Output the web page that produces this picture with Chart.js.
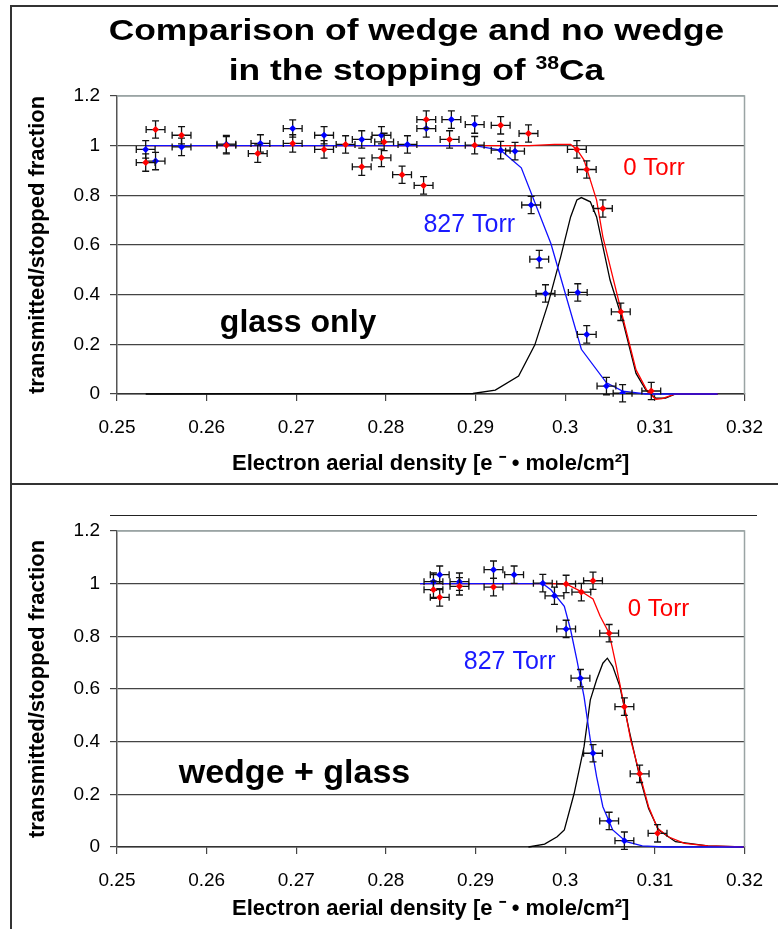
<!DOCTYPE html>
<html>
<head>
<meta charset="utf-8">
<script src="https://cdn.jsdelivr.net/npm/chart.js@4.4.1/dist/chart.umd.min.js"></script>
<style>
  html, body { margin: 0; padding: 0; background: #fff; }
  body { width: 778px; height: 929px; position: relative; overflow: hidden;
         font-family: "Liberation Sans", Arial, sans-serif; }
  canvas { position: absolute; left: 0; }
  #topChart { top: 0; }
  #bottomChart { top: 484px; }
  .rule { position: absolute; background: #333; }
  #title { position: absolute; left: 0; top: 10px; width: 833px; text-align: center;
           font-weight: bold; font-size: 30px; line-height: 40px; color: #000;
           transform: scaleX(1.18); transform-origin: 416.5px 0; }
  #title sup { font-size: 60%; line-height: 0; }
</style>
</head>
<body>
<canvas id="topChart" width="778" height="484"></canvas>
<canvas id="bottomChart" width="778" height="445"></canvas>
<div id="title">Comparison of wedge and no wedge<br>in the stopping of <sup>38</sup>Ca</div>
<div class="rule" style="left:10px;top:5px;width:2px;height:924px"></div>
<div class="rule" style="left:10px;top:5px;width:768px;height:2px"></div>
<div class="rule" style="left:10px;top:483px;width:768px;height:2px"></div>
<div class="rule" style="left:110px;top:515px;width:647px;height:1px;background:#222"></div>
<script>
// axis ticks
const xTickValues = [0.25, 0.26, 0.27, 0.28, 0.29, 0.30, 0.31, 0.32];
const xTickLabels = ['0.25', '0.26', '0.27', '0.28', '0.29', '0.3', '0.31', '0.32'];
const yTickValues = [0, 0.2, 0.4, 0.6, 0.8, 1.0, 1.2];
const yTickLabels = ['0', '0.2', '0.4', '0.6', '0.8', '1', '1.2'];

// glass only: measured points (0 Torr = red, 827 Torr = blue)
const glassRedX = [0.2532, 0.2543, 0.2572, 0.2622, 0.2657, 0.2696, 0.2731, 0.2755, 0.2773, 0.2795, 0.2798, 0.2818,
  0.2842, 0.2845, 0.2871, 0.2899, 0.2928, 0.2959, 0.3013, 0.3024, 0.3042, 0.3062, 0.3096];
const glassRedY = [0.932, 1.065, 1.042, 1.002, 0.968, 1.009, 0.985, 1.005, 0.915, 0.951, 1.015, 0.883,
  0.840, 1.105, 1.025, 1.002, 1.082, 1.049, 0.985, 0.904, 0.747, 0.331, 0.012];
const glassBlueX = [0.2532, 0.2543, 0.2572, 0.2622, 0.2660, 0.2696, 0.2731, 0.2773, 0.2795, 0.2824, 0.2845, 0.2873,
  0.2899, 0.2928, 0.2944, 0.2962, 0.2971, 0.2978, 0.3014, 0.3024, 0.3046, 0.3064];
const glassBlueY = [0.985, 0.938, 0.995, 1.006, 1.009, 1.069, 1.042, 1.025, 1.042, 1.005, 1.069, 1.105,
  1.085, 0.982, 0.978, 0.761, 0.543, 0.405, 0.409, 0.240, 0.032, 0.003];
const glassErrX = 0.00105;
const glassErrY = 0.035;

// glass only: model curves
const glassBlueFitX = [0.2532, 0.2899, 0.2928, 0.2951, 0.2984, 0.3018, 0.3046, 0.3064, 0.3090, 0.3170];
const glassBlueFitY = [1, 1, 0.982, 0.911, 0.606, 0.180, 0.045, 0.012, 0, 0];
const glassRedFitX = [0.2532, 0.2960, 0.2988, 0.3006, 0.3013, 0.3021, 0.3035, 0.3042, 0.3053, 0.3064, 0.3079,
  0.3092, 0.3101, 0.3108, 0.3123, 0.3170];
const glassRedFitY = [1, 1, 1.005, 1.005, 0.985, 0.942, 0.781, 0.633, 0.472, 0.311, 0.097,
  0.009, -0.021, -0.019, 0, 0];
const glassPeakX = [0.2532, 0.2897, 0.2922, 0.2948, 0.2966, 0.2981, 0.2995, 0.3006, 0.3013, 0.3018, 0.3028, 0.3035,
  0.3050, 0.3064, 0.3079, 0.3090, 0.3101, 0.3112, 0.3123, 0.3170];
const glassPeakY = [0, 0.002, 0.016, 0.072, 0.197, 0.365, 0.553, 0.713, 0.781, 0.791, 0.774, 0.713,
  0.459, 0.298, 0.083, 0.016, -0.017, -0.017, 0, 0];

// wedge + glass: measured points
const wedgeRedX = [0.2853, 0.2860, 0.2882, 0.2920, 0.3001, 0.3018, 0.3031, 0.3049, 0.3066, 0.3083, 0.3103];
const wedgeRedY = [0.977, 0.948, 0.990, 0.987, 0.999, 0.968, 1.011, 0.812, 0.533, 0.278, 0.052];
const wedgeBlueX = [0.2853, 0.2860, 0.2882, 0.2920, 0.2943, 0.2975, 0.2988, 0.3001, 0.3017, 0.3031, 0.3049, 0.3066];
const wedgeBlueY = [1.0075, 1.034, 1.0075, 1.053, 1.034, 1.002, 0.954, 0.828, 0.641, 0.356, 0.099, 0.024];
const wedgeErrX = 0.00105;
const wedgeErrY = 0.033;

// wedge + glass: model curves
const wedgeBlueFitX = [0.2838, 0.2975, 0.2984, 0.2999, 0.3006, 0.3013, 0.3021, 0.3028, 0.3035, 0.3042, 0.3053,
  0.3068, 0.3086, 0.3110, 0.3199];
const wedgeBlueFitY = [1, 1, 0.977, 0.914, 0.825, 0.711, 0.571, 0.407, 0.267, 0.153, 0.065,
  0.020, 0.004, 0, 0];
const wedgeRedFitX = [0.2838, 0.2975, 0.3001, 0.3018, 0.3031, 0.3039, 0.3049, 0.3057, 0.3066, 0.3073, 0.3083,
  0.3093, 0.3103, 0.3115, 0.3133, 0.3159, 0.3199];
const wedgeRedFitY = [1, 1, 0.999, 0.970, 0.942, 0.876, 0.812, 0.686, 0.533, 0.407, 0.278,
  0.153, 0.071, 0.039, 0.014, 0.004, 0];
const wedgePeakX = [0.2959, 0.2977, 0.2991, 0.2999, 0.3010, 0.3021, 0.3028, 0.3035, 0.3042, 0.3047, 0.3053, 0.3061,
  0.3072, 0.3083, 0.3093, 0.3104, 0.3123, 0.3159, 0.3199];
const wedgePeakY = [0, 0.011, 0.039, 0.065, 0.204, 0.381, 0.559, 0.635, 0.698, 0.717, 0.686, 0.609,
  0.432, 0.267, 0.146, 0.065, 0.020, 0.004, 0];

const FONT = '"Liberation Sans", Arial, sans-serif';
Chart.defaults.font.family = FONT;
Chart.defaults.color = '#000';

const zip = (xs, ys) => xs.map((x, i) => ({ x, y: ys[i] }));

// error bars drawn just before each measured dataset's markers
const errorBars = {
  id: 'errorBars',
  beforeDatasetDraw(chart, args) {
    const ds = chart.data.datasets[args.index];
    if (!ds.errX) return;
    const { ctx } = chart;
    const xs = chart.scales.x;
    const ys = chart.scales.y;
    const cap = 3.5;
    ctx.save();
    ctx.strokeStyle = '#111';
    ctx.lineWidth = 1.3;
    ctx.beginPath();
    ds.data.forEach((p) => {
      const px = xs.getPixelForValue(p.x);
      const py = ys.getPixelForValue(p.y);
      const x0 = xs.getPixelForValue(p.x - ds.errX);
      const x1 = xs.getPixelForValue(p.x + ds.errX);
      const y0 = ys.getPixelForValue(p.y - ds.errY);
      const y1 = ys.getPixelForValue(p.y + ds.errY);
      ctx.moveTo(x0, py); ctx.lineTo(x1, py);
      ctx.moveTo(x0, py - cap); ctx.lineTo(x0, py + cap);
      ctx.moveTo(x1, py - cap); ctx.lineTo(x1, py + cap);
      ctx.moveTo(px, y0); ctx.lineTo(px, y1);
      ctx.moveTo(px - cap, y0); ctx.lineTo(px + cap, y0);
      ctx.moveTo(px - cap, y1); ctx.lineTo(px + cap, y1);
    });
    ctx.stroke();
    ctx.restore();
  },
};

// grey top/right edge of the plot area
const plotFrame = {
  id: 'plotFrame',
  beforeDatasetsDraw(chart) {
    const { ctx, chartArea: a } = chart;
    ctx.save();
    ctx.strokeStyle = '#9aa4a4';
    ctx.lineWidth = 1.5;
    ctx.beginPath();
    ctx.moveTo(a.left, a.top);
    ctx.lineTo(a.right, a.top);
    ctx.lineTo(a.right, a.bottom);
    ctx.stroke();
    ctx.restore();
  },
};

// in-plot text placed in data units
const plotLabels = {
  id: 'plotLabels',
  afterDatasetsDraw(chart, args, opts) {
    const { ctx } = chart;
    ctx.save();
    ctx.textAlign = 'center';
    ctx.textBaseline = 'middle';
    (opts.items || []).forEach((it) => {
      ctx.fillStyle = it.color;
      ctx.font = `${it.bold ? 'bold ' : ''}${it.size}px ${FONT}`;
      ctx.fillText(it.text, chart.scales.x.getPixelForValue(it.x), chart.scales.y.getPixelForValue(it.y));
    });
    ctx.restore();
  },
};

function makeChart(canvas, cfg) {
  const curve = (data, color, order) => ({
    data, showLine: true, borderColor: color, borderWidth: 1.3, pointRadius: 0,
    tension: 0, clip: 8, order,
  });
  const points = (data, color, errX, errY) => ({
    data, showLine: false, pointStyle: 'rectRot', pointRadius: 3.5,
    backgroundColor: color, borderColor: color, borderWidth: 0, errX, errY, order: 0,
  });
  return new Chart(canvas, {
    type: 'scatter',
    data: {
      datasets: [
        points(cfg.redPts, '#ff0000', cfg.errX, cfg.errY),
        points(cfg.bluePts, '#0000ff', cfg.errX, cfg.errY),
        curve(cfg.blueFit, '#1010ff', 1),
        curve(cfg.redFit, '#ff0000', 2),
        curve(cfg.peak, '#000000', 3),
      ],
    },
    options: {
      responsive: false,
      animation: false,
      events: [],
      layout: { padding: { top: cfg.padTop, right: 21, left: 0, bottom: 0 } },
      plugins: {
        legend: { display: false },
        tooltip: { enabled: false },
        plotLabels: { items: cfg.labels },
      },
      scales: {
        x: {
          type: 'linear',
          min: 0.25,
          max: 0.32,
          afterBuildTicks: (axis) => { axis.ticks = xTickValues.map((value) => ({ value })); },
          afterFit: (s) => { s.height = cfg.xHeight; },
          ticks: { callback: (v, i) => xTickLabels[i], padding: 15, maxRotation: 0, autoSkip: false,
                   font: { size: 19 }, color: '#000' },
          grid: { drawOnChartArea: false, tickLength: 7, color: '#444', lineWidth: 1.2 },
          border: { color: '#333', width: 1.5 },
          title: { display: true, text: 'Electron aerial density [e ⁻ • mole/cm²]',
                   font: { size: 22, weight: 'bold' }, color: '#000', padding: { top: 0, bottom: 7 } },
        },
        y: {
          min: 0,
          max: 1.2,
          afterBuildTicks: (axis) => { axis.ticks = yTickValues.map((value) => ({ value })); },
          afterFit: (s) => { s.width = 117; },
          ticks: { callback: (v, i) => yTickLabels[i], padding: 10, font: { size: 19 }, color: '#000' },
          grid: {
            color: (c) => (c.tick && c.tick.value > 1.1 ? '#9aa4a4' : '#444'),
            tickColor: '#444',
            tickLength: 7,
            lineWidth: 1.2,
          },
          border: { color: '#555', width: 1.5 },
          title: { display: true, text: 'transmitted/stopped fraction',
                   font: { size: 22, weight: 'bold' }, color: '#000', padding: { top: 25, bottom: 0 } },
        },
      },
    },
    plugins: [plotFrame, errorBars, plotLabels],
  });
}

makeChart(document.getElementById('topChart'), {
  padTop: 96,
  xHeight: 90,
  redPts: zip(glassRedX, glassRedY),
  bluePts: zip(glassBlueX, glassBlueY),
  errX: glassErrX,
  errY: glassErrY,
  blueFit: zip(glassBlueFitX, glassBlueFitY),
  redFit: zip(glassRedFitX, glassRedFitY),
  peak: zip(glassPeakX, glassPeakY),
  labels: [
    { text: '0 Torr', x: 0.3099, y: 0.907, color: '#ff0000', size: 24 },
    { text: '827 Torr', x: 0.2893, y: 0.680, color: '#1a1aff', size: 25 },
    { text: 'glass only', x: 0.2702, y: 0.286, color: '#000', size: 32, bold: true },
  ],
});

makeChart(document.getElementById('bottomChart'), {
  padTop: 47,
  xHeight: 82,
  redPts: zip(wedgeRedX, wedgeRedY),
  bluePts: zip(wedgeBlueX, wedgeBlueY),
  errX: wedgeErrX,
  errY: wedgeErrY,
  blueFit: zip(wedgeBlueFitX, wedgeBlueFitY),
  redFit: zip(wedgeRedFitX, wedgeRedFitY),
  peak: zip(wedgePeakX, wedgePeakY),
  labels: [
    { text: '0 Torr', x: 0.3104, y: 0.901, color: '#ff0000', size: 24 },
    { text: '827 Torr', x: 0.2938, y: 0.7015, color: '#1a1aff', size: 25 },
    { text: 'wedge + glass', x: 0.2698, y: 0.2776, color: '#000', size: 34, bold: true },
  ],
});
</script>
</body>
</html>
